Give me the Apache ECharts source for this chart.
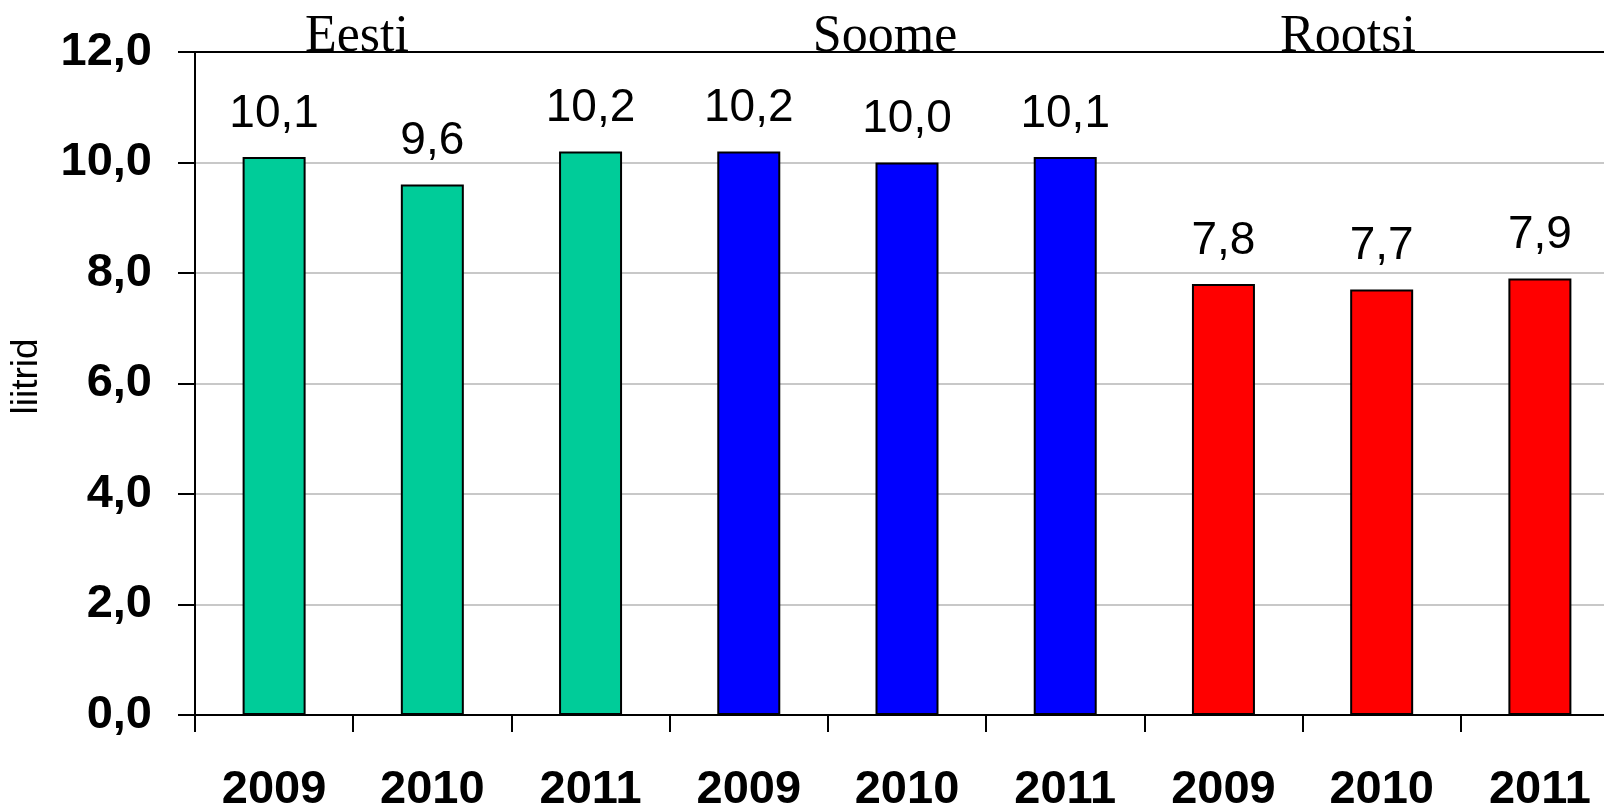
<!DOCTYPE html>
<html>
<head>
<meta charset="utf-8">
<script src="https://cdn.jsdelivr.net/npm/echarts@6/dist/echarts.min.js"></script>
<style>
  html, body { margin: 0; padding: 0; background: #fff; }
  #chart { width: 1604px; height: 811px; }
</style>
</head>
<body>
<div id="chart"></div>
<script>
// andmed
var years = ['2009', '2010', '2011', '2009', '2010', '2011', '2009', '2010', '2011']
var values = [10.1, 9.6, 10.2, 10.2, 10.0, 10.1, 7.8, 7.7, 7.9]
var countries = ['Eesti', 'Soome', 'Rootsi']
var countryColors = ['#00CC99', '#0000FF', '#FF0000']
var yTicks = [0, 2, 4, 6, 8, 10, 12]

var sans = 'Liberation Sans, Arial, sans-serif'
var serif = 'Liberation Serif, Times New Roman, serif'

// iga tulp saab oma riigi värvi (3 aastat riigi kohta)
var barData = values.map(function (v, i) {
  return {
    value: v,
    itemStyle: { color: countryColors[Math.floor(i / 3)] }
  }
})

function fmt(v) {
  return v.toFixed(1).replace('.', ',')
}

// riikide nimed joonise ülaservas
var countryX = [357, 885, 1348]
var countryText = countries.map(function (c, i) {
  return {
    type: 'text',
    x: countryX[i],
    y: 63,
    z: 10,
    style: {
      text: c,
      fontFamily: serif,
      fontSize: 52,
      fill: '#000',
      textAlign: 'center',
      textVerticalAlign: 'bottom'
    }
  }
})

var myChart = echarts.init(document.getElementById('chart'), null, { renderer: 'canvas' })

var option = {
  animation: false,
  backgroundColor: '#ffffff',
  grid: {
    left: 195,
    top: 52,
    width: 1424,
    height: 663,
    containLabel: false,
    outerBoundsMode: 'none'
  },
  xAxis: [
    {
      type: 'category',
      data: years,
      axisLine: { lineStyle: { color: '#000', width: 2 } },
      axisTick: { show: true, length: 17, lineStyle: { color: '#000', width: 2 } },
      axisLabel: {
        color: '#000',
        fontFamily: sans,
        fontWeight: 'bold',
        fontSize: 47,
        margin: 52,
        interval: 0
      }
    },
    {
      // ülemine raamjoon
      type: 'category',
      data: years,
      position: 'top',
      axisLine: { show: true, lineStyle: { color: '#000', width: 2 } },
      axisTick: { show: false },
      axisLabel: { show: false }
    }
  ],
  yAxis: {
    type: 'value',
    min: yTicks[0],
    max: yTicks[yTicks.length - 1],
    interval: 2,
    name: 'liitrid',
    nameLocation: 'middle',
    nameRotate: 90,
    nameGap: 150,
    nameMoveOverlap: false,
    nameTextStyle: { color: '#000', fontFamily: sans, fontSize: 37, padding: [0, 0, 0, 14] },
    axisLine: { show: true, lineStyle: { color: '#000', width: 2 } },
    axisTick: { show: true, length: 17, lineStyle: { color: '#000', width: 2 } },
    axisLabel: {
      color: '#000',
      fontFamily: sans,
      fontWeight: 'bold',
      fontSize: 47,
      margin: 43,
      formatter: function (v) { return fmt(v) }
    },
    splitLine: { show: true, lineStyle: { color: '#c8c8c8', width: 2 } }
  },
  series: [
    {
      type: 'bar',
      xAxisIndex: 0,
      data: barData,
      barWidth: 63,
      itemStyle: { borderColor: '#000', borderWidth: 2 },
      label: {
        show: true,
        position: 'top',
        distance: 20,
        color: '#000',
        fontFamily: sans,
        fontSize: 46,
        formatter: function (p) { return fmt(p.value) }
      }
    }
  ],
  graphic: countryText
}

myChart.setOption(option)
</script>
</body>
</html>
